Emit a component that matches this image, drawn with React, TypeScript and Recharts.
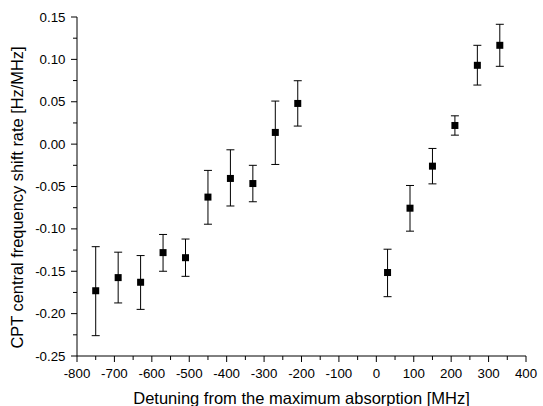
import React from 'react';
import { ScatterChart, Scatter, XAxis, YAxis, ErrorBar } from 'recharts';

const detuning = [-750, -690, -630, -570, -510, -450, -390, -330, -270, -210, 30, 90, 150, 210, 270, 330];
const shiftRate = [-0.173, -0.1575, -0.163, -0.128, -0.134, -0.0625, -0.0405, -0.0465, 0.0138, 0.048, -0.1515, -0.0756, -0.026, 0.022, 0.093, 0.1166];
const upperBound = [-0.121, -0.1275, -0.1315, -0.1066, -0.112, -0.031, -0.0067, -0.025, 0.0508, 0.0748, -0.124, -0.0488, -0.0051, 0.0334, 0.1166, 0.1414];
const lowerBound = [-0.226, -0.1874, -0.195, -0.15, -0.156, -0.0945, -0.073, -0.068, -0.024, 0.0213, -0.18, -0.1027, -0.0469, 0.0106, 0.0697, 0.0918];

const xTickValues = [-800, -750, -700, -650, -600, -550, -500, -450, -400, -350, -300, -250, -200, -150, -100, -50, 0, 50, 100, 150, 200, 250, 300, 350, 400];
const yTickValues = [-0.25, -0.225, -0.2, -0.175, -0.15, -0.125, -0.1, -0.075, -0.05, -0.025, 0, 0.025, 0.05, 0.075, 0.1, 0.125, 0.15];

const xTitle = 'Detuning from the maximum absorption [MHz]';
const yTitle = 'CPT central frequency shift rate [Hz/MHz]';

const data = detuning.map((x, i) => ({
  x,
  y: shiftRate[i],
  err: [shiftRate[i] - lowerBound[i], upperBound[i] - shiftRate[i]],
}));

const FONT = '"Liberation Sans", Arial, sans-serif';

const isMajorX = (v: number) => Math.abs(v / 100 - Math.round(v / 100)) < 1e-6;
const isMajorY = (v: number) => Math.abs(v * 20 - Math.round(v * 20)) < 1e-6;

const XTick = (props: any) => {
  const { x, y, payload } = props;
  const v = payload.value;
  const major = isMajorX(v);
  return (
    <g>
      <line x1={x} x2={x} y1={y} y2={y + (major ? 6 : 4)} stroke="#000" strokeWidth={1} />
      {major && (
        <text x={x} y={y + 21.5} textAnchor="middle" fontSize={13.3} fontFamily={FONT} fill="#000">
          {String(v)}
        </text>
      )}
    </g>
  );
};

const YTick = (props: any) => {
  const { x, y, payload } = props;
  const v = payload.value;
  const major = isMajorY(v);
  const label = Math.abs(v) < 1e-9 ? '0.00' : v.toFixed(2);
  return (
    <g>
      <line x1={x} x2={x - (major ? 6 : 4)} y1={y} y2={y} stroke="#000" strokeWidth={1} />
      {major && (
        <text x={x - 11.5} y={y} textAnchor="end" dominantBaseline="central" fontSize={13.3} fontFamily={FONT} fill="#000">
          {label}
        </text>
      )}
    </g>
  );
};

const SquareShape = (props: any) => {
  const { cx, cy } = props;
  return <rect x={cx - 3.5} y={cy - 3.5} width={7} height={7} fill="#000" />;
};

export default function App() {
  return (
    <div style={{ position: 'absolute', left: 0, top: 0, width: 543, height: 406, background: '#fff' }}>
      <ScatterChart width={543} height={406} margin={{ top: 17, right: 17, bottom: 0, left: 0 }}>
        <XAxis
          type="number"
          dataKey="x"
          domain={[-800, 400]}
          ticks={xTickValues}
          interval={0}
          allowDataOverflow
          height={50}
          tickSize={0}
          tickMargin={0}
          tickLine={false}
          tick={<XTick />}
          axisLine={{ stroke: '#000', strokeWidth: 1 }}
          label={{
            content: () => (
              <text x={301.5} y={403.5} textAnchor="middle" fontSize={16.5} fontFamily={FONT} fill="#000">
                {xTitle}
              </text>
            ),
          }}
        />
        <YAxis
          type="number"
          dataKey="y"
          domain={[-0.25, 0.15]}
          ticks={yTickValues}
          interval={0}
          allowDataOverflow
          width={77}
          tickSize={0}
          tickMargin={0}
          tickLine={false}
          tick={<YTick />}
          axisLine={{ stroke: '#000', strokeWidth: 1 }}
          label={{
            content: () => (
              <text
                x={23}
                y={197.5}
                transform="rotate(-90, 23, 197.5)"
                textAnchor="middle"
                fontSize={16.4}
                fontFamily={FONT}
                fill="#000"
              >
                {yTitle}
              </text>
            ),
          }}
        />
        <Scatter data={data} isAnimationActive={false} shape={<SquareShape />} fill="#000">
          <ErrorBar dataKey="err" direction="y" width={4} stroke="#000" strokeWidth={1} isAnimationActive={false} />
        </Scatter>
      </ScatterChart>
    </div>
  );
}
